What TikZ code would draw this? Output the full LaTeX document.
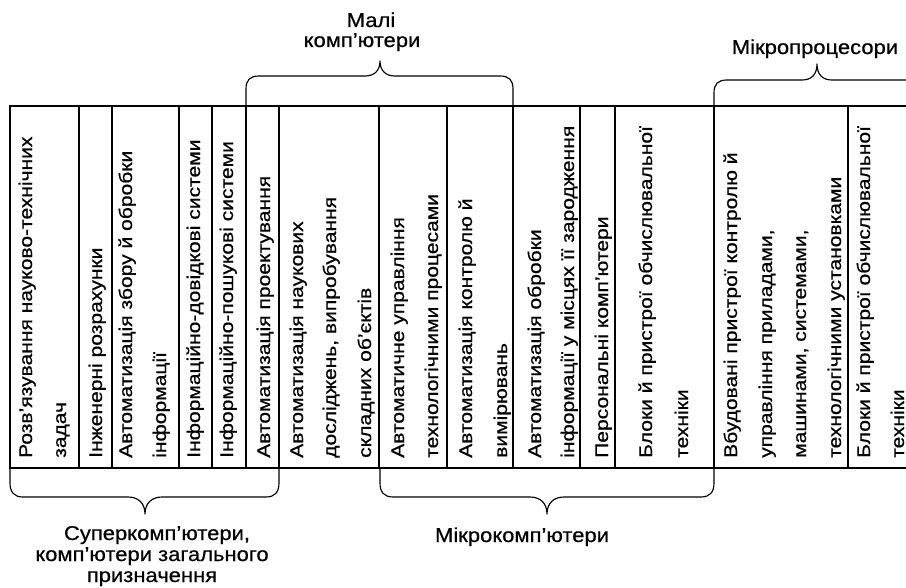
\documentclass[tikz,border=0pt]{standalone}
\usepackage{fontspec}
\usepackage{graphicx}
\setmainfont{Liberation Sans}[FakeBold=0.5]
% text styles: rotated cell lines and horizontal group labels
\newcommand{\celltxt}[1]{\scalebox{1.15}[1]{#1}}
\newcommand{\grptxt}[1]{\scalebox{1.1}[1]{#1}}
\tikzset{
  grid/.style={line width=1.15pt, line cap=rect},
  bracepath/.style={line width=1.15pt, line join=round},
  vtext/.style={rotate=90, anchor=base west, inner sep=0pt,
    font=\fontsize{18.3pt}{20pt}\selectfont},
  htext/.style={anchor=base, inner sep=0pt,
    font=\fontsize{20pt}{22pt}\selectfont}
}
\begin{document}
\begin{tikzpicture}[x=1pt, y=-1pt]
\useasboundingbox (0,0) rectangle (906,588);
\clip (0,0) rectangle (906,588);
\fill[white] (0,0) rectangle (906,588);

% table frame and column separators
\draw[grid] (10,468) -- (10,106) -- (915,106);
\draw[grid] (10,468) -- (915,468);
\foreach \cx in {79,112,179,212,246,279,379,447,513,580,615,714,848}
  \draw[grid] (\cx,106) -- (\cx,468);

% cell texts, read from bottom to top
\node[vtext] (c1a) at (32,458) {\celltxt{Розв’язування науково-технічних}};
\node[vtext] (c1b) at (66,458) {\celltxt{задач}};
\node[vtext] (c2a) at (102,458) {\celltxt{Інженерні розрахунки}};
\node[vtext] (c3a) at (132,458) {\celltxt{Автоматизація збору й обробки}};
\node[vtext] (c3b) at (166,458) {\celltxt{інформації}};
\node[vtext] (c4a) at (200,458) {\celltxt{Інформаційно-довідкові системи}};
\node[vtext] (c5a) at (233,458) {\celltxt{Інформаційно-пошукові системи}};
\node[vtext] (c6a) at (270,458) {\celltxt{Автоматизація проектування}};
\node[vtext] (c7a) at (303,458) {\celltxt{Автоматизація наукових}};
\node[vtext] (c7b) at (336,458) {\celltxt{досліджень, випробування}};
\node[vtext] (c7c) at (371,458) {\celltxt{складних об’єктів}};
\node[vtext] (c8a) at (404,458) {\celltxt{Автоматичне управління}};
\node[vtext] (c8b) at (438,458) {\celltxt{технологічними процесами}};
\node[vtext] (c9a) at (472,458) {\celltxt{Автоматизація контролю й}};
\node[vtext] (c9b) at (507,458) {\celltxt{вимірювань}};
\node[vtext] (c10a) at (541,458) {\celltxt{Автоматизація обробки}};
\node[vtext] (c10b) at (574,458) {\celltxt{інформації у місцях її зародження}};
\node[vtext] (c11a) at (608,458) {\celltxt{Персональні комп’ютери}};
\node[vtext] (c12a) at (652,458) {\celltxt{Блоки й пристрої обчислювальної}};
\node[vtext] (c12b) at (688,458) {\celltxt{техніки}};
\node[vtext] (c13a) at (737,458) {\celltxt{Вбудовані пристрої контролю й}};
\node[vtext] (c13b) at (772,458) {\celltxt{управління приладами,}};
\node[vtext] (c13c) at (806,458) {\celltxt{машинами, системами,}};
\node[vtext] (c13d) at (841,458) {\celltxt{технологічними установками}};
\node[vtext] (c14a) at (870,458) {\celltxt{Блоки й пристрої обчислювальної}};
\node[vtext] (c14b) at (904,458) {\celltxt{техніки}};

% braces above the table
\draw[bracepath] (246,106) -- (246,89) .. controls (246,80) and (250,76) .. (259,76)
  -- (365,76) .. controls (374,76) and (380,71) .. (380,61)
  .. controls (380,71) and (386,76) .. (395,76)
  -- (500,76) .. controls (509,76) and (513,80) .. (513,89) -- (513,106);
\draw[bracepath] (714,106) -- (714,93) .. controls (714,84) and (718,80) .. (727,80)
  -- (802,80) .. controls (811,80) and (817,75) .. (817,64)
  .. controls (817,75) and (823,80) .. (832,80)
  -- (907,80) .. controls (916,80) and (920,84) .. (920,93) -- (920,106);

% braces below the table
\draw[bracepath] (10,468) -- (10,483) .. controls (10,492) and (14,497) .. (23,497)
  -- (128,497) .. controls (138,497) and (145,503) .. (145,514)
  .. controls (145,503) and (152,497) .. (162,497)
  -- (266,497) .. controls (275,497) and (279,492) .. (279,483) -- (279,468);
\draw[bracepath] (380,468) -- (380,483) .. controls (380,492) and (384,497) .. (393,497)
  -- (530,497) .. controls (540,497) and (547,503) .. (547,514)
  .. controls (547,503) and (554,497) .. (564,497)
  -- (701,497) .. controls (710,497) and (714,492) .. (714,483) -- (714,468);

% group labels
\node[htext] (small1) at (371,27) {\grptxt{Малі}};
\node[htext] (small2) at (362,47) {\grptxt{комп’ютери}};
\node[htext] (mproc) at (815,54) {\grptxt{Мікропроцесори}};
\node[htext] (super1) at (157,540) {\grptxt{Суперкомп’ютери,}};
\node[htext] (super2) at (152,561) {\grptxt{комп’ютери загального}};
\node[htext] (super3) at (152,582) {\grptxt{призначення}};
\node[htext] (micro) at (522,542) {\grptxt{Мікрокомп’ютери}};
\end{tikzpicture}
\end{document}
